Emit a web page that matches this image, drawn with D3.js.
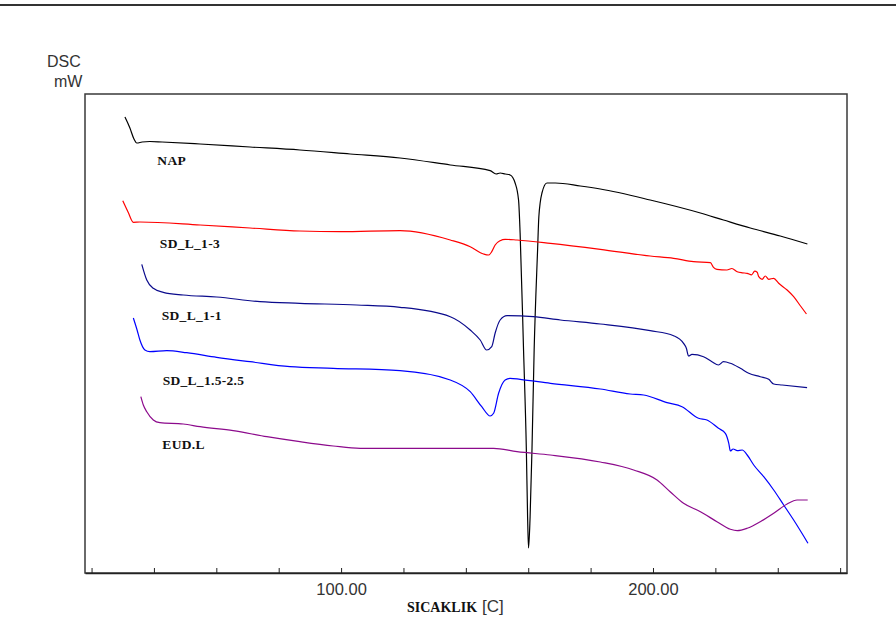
<!DOCTYPE html>
<html>
<head>
<meta charset="utf-8">
<script src="https://cdn.jsdelivr.net/npm/d3@7"></script>
<style>
  html, body { margin: 0; padding: 0; background: #fff; }
  svg { display: block; }
</style>
</head>
<body>
<svg id="chart" width="896" height="634"></svg>
<script>
// DSC thermograms: temperature (°C) vs. heat-flow signal (relative units, curves offset)

const napT = [30.7, 32.3, 33.6, 34.5, 36.2, 38.7, 42.6, 54.8, 70.8, 86.8, 102.9, 118.9, 135.0, 147.8, 149.7, 151.0, 152.6, 154.2, 155.8, 156.9, 157.4, 158.5, 159.4, 159.8, 160.1, 160.6, 161.2, 161.9, 163.0, 163.4, 164.4, 166.0, 168.7, 176.7, 183.1, 199.1, 215.2, 222.6, 231.2, 240.8, 249.5];
const napV = [456, 445, 434, 430, 431, 431.5, 431, 429, 426, 423, 419, 415, 408, 402.3, 399, 400, 399, 398, 390, 373, 340, 223, 123, 56, 25, 56, 123, 223, 323, 356, 380, 390, 390, 387, 384, 373, 360, 353, 345, 337, 329];

const sd13T = [30.0, 31.7, 33.4, 35.5, 54.8, 70.8, 86.8, 99.7, 118.9, 135.0, 141.4, 145.7, 147.3, 148.3, 149.4, 151.0, 152.6, 156.4, 167.1, 183.1, 199.1, 206.6, 213.0, 218.4, 219.4, 220.5, 223.7, 225.3, 227.0, 228.6, 230.2, 231.6, 232.6, 233.4, 233.9, 235.0, 236.0, 237.1, 238.7, 240.3, 243.0, 245.1, 247.3, 249.2];
const sd13V = [372.3, 361, 350.7, 351, 348, 345, 342, 341.3, 342.3, 333, 326.3, 319, 318, 321.3, 328, 332.3, 333.7, 333, 329.7, 323.7, 317, 314.7, 311.3, 310.3, 305.7, 303.7, 303, 304.5, 301.3, 300.2, 299.7, 298.2, 301.8, 300.7, 296.3, 293.7, 297, 293.7, 294.7, 289.7, 283, 276.3, 267, 259];

const sd11T = [36.1, 37.7, 39.8, 43.0, 49.4, 60.1, 74.0, 86.8, 105.0, 118.9, 135.0, 141.4, 144.6, 146.7, 148.3, 149.4, 151.0, 153.2, 161.6, 170.3, 183.1, 199.1, 206.6, 209.8, 210.7, 211.4, 212.5, 216.2, 218.9, 221.0, 222.6, 224.8, 228.0, 230.7, 234.4, 237.1, 238.7, 241.4, 249.4];
const sd11V = [308.7, 293, 284.7, 280.7, 278, 276, 271.3, 269.7, 268, 265.7, 256.3, 243, 233, 223, 226.3, 240, 253, 257.3, 256.3, 253, 249, 242.3, 237.3, 229.7, 224.7, 217, 218.7, 216.3, 211.3, 208, 211.3, 209.7, 204.7, 199.7, 196.3, 193.7, 189, 188, 185.3];

const sd1525T = [33.4, 34.6, 35.5, 37.1, 38.7, 44.1, 50.5, 60.1, 70.8, 83.6, 97.5, 118.9, 135.0, 141.4, 145.1, 147.8, 148.9, 150.5, 152.6, 154.2, 157.4, 167.1, 183.1, 192.7, 197.0, 204.5, 209.3, 214.6, 217.3, 221.0, 223.2, 224.3, 224.8, 225.7, 227.0, 228.6, 230.2, 232.3, 235.5, 238.7, 241.9, 245.1, 249.7];
const sd1525V = [255, 243, 233, 223, 221.3, 222.3, 220.3, 215.7, 211.3, 206.3, 204.7, 202.3, 193, 181.3, 166.3, 157, 159.7, 179.7, 193, 194.7, 193.7, 189.7, 184, 179, 178, 170.3, 166.3, 154.7, 153, 144.7, 139.7, 129.7, 122, 124, 122.3, 123, 118, 108, 96.3, 83, 68, 53, 29.7];

const eudT = [35.8, 36.6, 37.7, 39.8, 41.9, 49.4, 54.8, 65.4, 76.2, 86.8, 97.5, 106.1, 118.9, 135.0, 148.9, 156.4, 167.1, 183.1, 193.8, 201.3, 205.5, 209.8, 215.2, 220.5, 224.8, 227.0, 230.2, 234.4, 238.7, 243.0, 246.2, 249.6];
const eudV = [176.3, 168, 161.3, 153, 150.3, 149, 146.3, 142.3, 136.3, 131.3, 127, 124.7, 124.7, 124.7, 124.7, 121.3, 118, 111, 103, 93, 81.3, 69.7, 61.3, 51.3, 43.7, 42.3, 44.7, 51.3, 59.7, 69, 73, 73];

const seriesNames = ["NAP", "SD_L_1-3", "SD_L_1-1", "SD_L_1.5-2.5", "EUD.L"];
const seriesT = [napT, sd13T, sd11T, sd1525T, eudT];
const seriesV = [napV, sd13V, sd11V, sd1525V, eudV];

// label anchors in data units (temperature, signal)
const labelT = [41.1, 41.9, 42.5, 42.8, 42.7];
const labelV = [408, 325, 253, 188, 124];

const xTicks = [20, 40, 60, 80, 100, 120, 140, 160, 180, 200, 220, 240, 260];
const xTickLabels = [100, 200];

const colors = ["#000000", "#ff0000", "#0a0a8c", "#0000ff", "#8c0a8c"];

const svg = d3.select("#chart");
const W = 896, H = 634;
const plot = { left: 85, right: 847, top: 94, bottom: 573 };

svg.append("rect").attr("width", W).attr("height", H).attr("fill", "#fff");

// top rule across the page
svg.append("line")
  .attr("x1", 0).attr("x2", W).attr("y1", 5).attr("y2", 5)
  .attr("stroke", "#333").attr("stroke-width", 2);

const x = d3.scaleLinear().domain([17.9, 262.2]).range([plot.left, plot.right]);
const y = d3.scaleLinear().domain([0, 479]).range([plot.bottom, plot.top]);

// frame
svg.append("rect")
  .attr("x", plot.left).attr("y", plot.top)
  .attr("width", plot.right - plot.left).attr("height", plot.bottom - plot.top)
  .attr("fill", "none").attr("stroke", "#3a3a3a").attr("stroke-width", 1.5);

// x axis with inward ticks
const xAxis = d3.axisBottom(x)
  .tickValues(xTicks)
  .tickSizeInner(-5)
  .tickSizeOuter(0)
  .tickPadding(10)
  .tickFormat(d => xTickLabels.includes(d) ? d3.format(".2f")(d) : "");

const gx = svg.append("g")
  .attr("transform", `translate(0,${plot.bottom})`)
  .call(xAxis);
gx.select(".domain").attr("stroke", "#222").attr("stroke-width", 1.5);
gx.selectAll(".tick line").attr("stroke", "#222");
gx.selectAll(".tick text")
  .attr("font-family", "'Liberation Sans', Arial, sans-serif")
  .attr("font-size", 16.5)
  .attr("fill", "#333")
  .attr("dy", "0.71em");

// curves
const line = d3.line()
  .x(d => x(d[0]))
  .y(d => y(d[1]))
  .curve(d3.curveMonotoneX);

seriesNames.forEach((name, i) => {
  const pts = seriesT[i].map((t, k) => [t, seriesV[i][k]]);
  svg.append("path")
    .datum(pts)
    .attr("d", line)
    .attr("fill", "none")
    .attr("stroke", colors[i])
    .attr("stroke-width", 1.2)
    .attr("stroke-linejoin", "round");

  svg.append("text")
    .attr("x", x(labelT[i]))
    .attr("y", y(labelV[i]))
    .attr("font-family", "'Liberation Serif', 'Times New Roman', serif")
    .attr("font-weight", "bold")
    .attr("font-size", 13.5)
    .attr("letter-spacing", 0.3)
    .attr("fill", "#111")
    .text(name);
});

// y axis caption
svg.append("text")
  .attr("x", 47).attr("y", 67)
  .attr("font-family", "'Liberation Sans', Arial, sans-serif")
  .attr("font-size", 16).attr("fill", "#333")
  .text("DSC");
svg.append("text")
  .attr("x", 54).attr("y", 87)
  .attr("font-family", "'Liberation Sans', Arial, sans-serif")
  .attr("font-size", 16).attr("fill", "#333")
  .text("mW");

// x axis caption
const cap = svg.append("text")
  .attr("x", 407).attr("y", 612)
  .attr("fill", "#111");
cap.append("tspan")
  .attr("font-family", "'Liberation Serif', 'Times New Roman', serif")
  .attr("font-weight", "bold")
  .attr("font-size", 14)
  .text("SICAKLIK");
cap.append("tspan")
  .attr("dx", 5)
  .attr("font-family", "'Liberation Sans', Arial, sans-serif")
  .attr("font-size", 17)
  .attr("fill", "#333")
  .text("[C]");
</script>
</body>
</html>
